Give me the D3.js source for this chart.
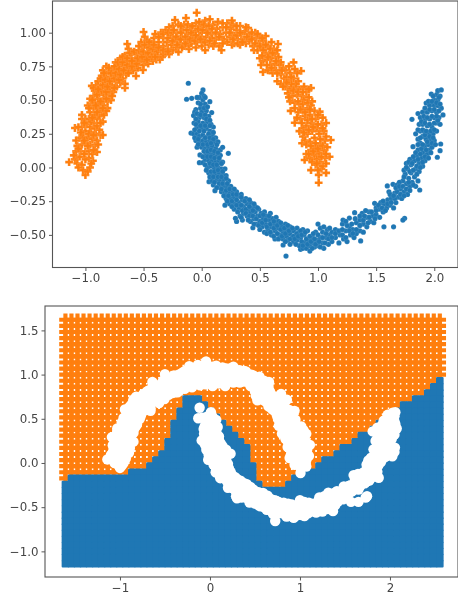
<!DOCTYPE html>
<html><head><meta charset="utf-8">
<script src="https://cdn.jsdelivr.net/npm/d3@7/dist/d3.min.js"></script>
<style>html,body{margin:0;padding:0;background:#fff}svg{display:block;filter:blur(0.35px)}</style>
</head><body><svg id="c" width="458" height="603"></svg>
<script>
const orangeMoon = [[-1.14,.04],[-1.09,.06],[-1.07,.03],[-1.05,.08],[-1.03,.02],[-1,-.056],[-1.02,-.02],[-.98,-.03],[-.96,0],[-.935,.05],[-.9,.115],[-.95,.03],[-.97,.07],[-1,.06],[-1.04,.12],[-1.08,.12],[-1.07,.16],[-1.03,.17],[-1,.12],[-.97,.12],[-.94,.1],[-.92,.16],[-.96,.17],[-1,.18],[-1.05,.22],[-1.08,.2],[-1.02,.23],[-.98,.22],[-.94,.21],[-.9,.2],[-.87,.24],[-.85,.241],[-.91,.25],[-.95,.26],[-1,.27],[-1.03,.3],[-1.09,.293],[-1.06,.3],[-.99,.32],[-.96,.3],[-.92,.29],[-.88,.28],[-1.03,.39],[-1.03,.36],[-1,.36],[-.97,.36],[-.93,.33],[-.9,.36],[-.85,.34],[-.88,.38],[-.92,.39],[-.96,.41],[-.93,.44],[-.89,.43],[-.86,.42],[-.84,.39],[-.95,.47],[-.98,.46],[-.92,.48],[-.88,.47],[-.84,.46],[-.81,.44],[-.96,.51],[-.93,.53],[-.89,.51],[-.85,.5],[-.81,.49],[-.78,.5],[-.945,.605],[-.92,.57],[-.88,.55],[-.84,.54],[-.8,.54],[-.91,.61],[-.87,.6],[-.83,.59],[-.79,.57],[-.76,.56],[-.89,.64],[-.85,.64],[-.81,.63],[-.77,.61],[-.73,.6],[-.66,.59],[-.66,.62],[-.86,.68],[-.82,.67],[-.78,.66],[-.74,.64],[-.7,.63],[-.85,.72],[-.8,.71],[-.76,.69],[-.72,.68],[-.68,.66],[-.82,.75],[-.77,.73],[-.73,.72],[-.69,.71],[-.65,.69],[-.62,.72],[-.565,.679],[-.505,.723],[-.74,.78],[-.71,.76],[-.67,.75],[-.63,.74],[-.59,.72],[-.55,.74],[-.7,.81],[-.66,.79],[-.62,.77],[-.58,.76],[-.54,.78],[-.5,.76],[-.66,.83],[-.61,.81],[-.57,.8],[-.53,.81],[-.49,.79],[-.46,.77],[-.64,.916],[-.63,.88],[-.6,.85],[-.56,.84],[-.52,.85],[-.48,.83],[-.45,.81],[-.42,.79],[-.39,.8],[-.36,.8],[-.5,1.005],[-.49,.97],[-.52,.93],[-.51,.89],[-.47,.9],[-.44,.86],[-.41,.84],[-.38,.83],[-.34,.82],[-.47,.94],[-.43,.92],[-.39,.88],[-.35,.86],[-.31,.85],[-.28,.84],[-.41,.96],[-.37,.93],[-.33,.9],[-.29,.88],[-.25,.87],[-.35,1],[-.33,.96],[-.3,.93],[-.26,.91],[-.22,.89],[-.2,.857],[-.11,.879],[-.31,1.02],[-.27,.98],[-.23,.95],[-.19,.92],[-.15,.9],[-.11,.91],[-.28,1.04],[-.23,1.094],[-.25,1.05],[-.21,1],[-.17,.97],[-.13,.94],[-.09,.92],[-.05,.89],[-.2,1.06],[-.16,1.02],[-.12,.99],[-.08,.96],[-.04,.93],[0,.9],[.03,.87],[-.135,1.109],[-.15,1.06],[-.1,1.04],[-.06,1.01],[-.02,.97],[.02,.94],[.06,.91],[.1,.9],[-.043,1.148],[-.05,1.07],[0,1.05],[.03,1.09],[.07,1.1],[.04,1.02],[.08,.99],[.12,.95],[.15,.9],[.17,.87],[0,1],[.04,.97],[.1,1.06],[.13,1.03],[.16,.99],[.19,.95],[.22,.93],[.14,1.08],[.18,1.04],[.21,1],[.24,.97],[.26,.91],[.28,.92],[.22,1.07],[.25,1.03],[.28,.98],[.31,.95],[.33,.91],[.27,1.06],[.3,1.02],[.34,.99],[.36,.95],[.38,.92],[.4,1.035],[.37,1.01],[.33,1.05],[.42,.98],[.41,.94],[.44,.9],[.45,.87],[.47,.96],[.46,1],[.5,.97],[.49,.92],[.52,.89],[.48,.87],[.55,.975],[.53,.94],[.57,.9],[.6,.93],[.656,.916],[.62,.88],[.55,.85],[.58,.84],[.5,.81],[.53,.79],[.527,.708],[.51,.76],[.56,.8],[.6,.81],[.63,.84],[.66,.82],[.59,.76],[.63,.77],[.67,.76],[.7,.74],[.57,.72],[.61,.7],[.65,.64],[.64,.72],[.68,.69],[.72,.72],[.76,.7],[.79,.78],[.75,.75],[.855,.716],[.82,.7],[.71,.66],[.75,.64],[.79,.66],[.83,.64],[.68,.62],[.72,.6],[.76,.58],[.8,.6],[.84,.58],[.88,.6],[.94,.59],[.9,.56],[.86,.53],[.82,.54],[.78,.53],[.74,.55],[.76,.49],[.8,.48],[.84,.47],[.88,.5],[.92,.52],[.95,.49],[.91,.44],[.87,.42],[.83,.41],[.765,.42],[.8,.332],[.85,.36],[.89,.38],[.93,.39],[.97,.42],[1.015,.414],[.98,.36],[.94,.33],[.9,.31],[.87,.29],[1.07,.33],[1.03,.32],[.99,.29],[.95,.27],[.91,.25],[.87,.23],[.863,.18],[.89,.2],[.93,.19],[.97,.22],[1.01,.25],[1.05,.27],[1.11,.204],[1.06,.2],[1.02,.17],[.98,.15],[.94,.13],[.9,.1],[.885,.056],[.93,.07],[.97,.09],[1.01,.11],[1.05,.13],[1.1,.08],[1.06,.07],[1.02,.04],[.98,.02],[.94,-.02],[1.07,-.04],[1.03,-.01],[1.006,-.055],[1.006,-.113],[.99,.06],
[-1.06,0],[-1.1,.09],[-1.01,.1],[-.98,.16],[-1.06,.14],[-.93,.13],[-.89,.17],[-1.01,.2],[-.97,.25],[-.93,.24],[-1.04,.26],[-.9,.31],[-.95,.34],[-1.01,.33],[-.87,.33],[-.94,.37],[-.9,.41],[-.82,.42],[-.97,.44],[-.85,.44],[-.91,.46],[-.87,.49],[-.94,.5],[-.82,.51],[-.9,.54],[-.86,.57],[-.82,.56],[-.77,.53],[-.93,.59],[-.89,.58],[-.85,.61],[-.81,.6],[-.75,.59],[-.87,.66],[-.83,.65],[-.79,.64],[-.75,.66],[-.71,.65],[-.84,.7],[-.78,.7],[-.74,.7],[-.7,.69],[-.8,.74],[-.75,.75],[-.71,.73],[-.67,.72],[-.63,.7],[-.72,.78],[-.68,.78],[-.64,.76],[-.6,.75],[-.56,.77],[-.68,.82],[-.64,.81],[-.6,.79],[-.55,.81],[-.51,.82],[-.47,.8],[-.62,.85],[-.58,.86],[-.54,.87],[-.5,.86],[-.46,.85],[-.43,.82],[-.4,.82],[-.54,.9],[-.49,.91],[-.45,.89],[-.42,.88],[-.38,.86],[-.33,.84],[-.45,.93],[-.41,.91],[-.37,.89],[-.33,.87],[-.29,.86],[-.4,.99],[-.37,.97],[-.33,.99],[-.29,.96],[-.25,.94],[-.21,.91],[-.17,.89],[-.29,1],[-.25,1],[-.22,.97],[-.18,.95],[-.14,.92],[-.24,1.02],[-.18,1],[-.14,.97],[-.1,.95],[-.06,.94],[-.18,1.05],[-.13,1.02],[-.09,1],[-.05,.98],[-.01,.95],[-.12,1.06],[-.08,1.05],[-.03,1.03],[.01,1.02],[.05,1],[.09,.96],[.03,.93],[.07,.94],[.11,.92],[-.02,1.08],[.02,1.06],[.06,1.05],[.09,1.03],[.12,1],[.15,.97],[.18,.92],[.18,1.07],[.21,1.04],[.24,1],[.27,.95],[.3,.98],[.31,.92],[.26,1.09],[.3,1.05],[.33,1],[.35,.93],[.39,.97],[.38,1.04],[.43,1],[.43,.95],[.46,.92],[.5,.9],[.48,.99],[.52,.96],[.55,.91],[.59,.88],[.53,.87],[.57,.82],[.61,.85],[.52,.83],[.65,.87],[.68,.78],[.64,.79],[.6,.74],[.56,.76],[.65,.7],[.69,.72],[.73,.67],[.77,.67],[.8,.73],[.81,.62],[.77,.62],[.73,.63],[.7,.6],[.75,.52],[.79,.57],[.83,.56],[.87,.56],[.92,.58],[.83,.49],[.87,.47],[.91,.48],[.94,.46],[.8,.44],[.85,.43],[.89,.41],[.93,.43],[.82,.37],[.86,.33],[.91,.35],[.95,.36],[1,.39],[1.04,.37],[.84,.27],[.88,.26],[.92,.28],[.96,.3],[1,.32],[1.04,.29],[.9,.17],[.94,.16],[.98,.18],[1.02,.21],[1.07,.23],[.92,.1],[.96,.12],[1,.14],[1.04,.16],[1.08,.15],[.95,.04],[.99,.03],[1.03,.08],[1.07,.1],[1,-.02],[1.04,.01],[1.07,.03]];
const blueMoon = [[-.115,.625],[-.13,.506],[-.086,.513],[.011,.575],[0,.55],[-.02,.52],[-.03,.48],[.01,.5],[.03,.47],[.07,.488],[-.01,.44],[-.05,.43],[-.06,.41],[0,.41],[.04,.42],[.086,.407],[.06,.38],[.02,.37],[-.02,.37],[-.07,.385],[-.066,.33],[-.03,.34],[.01,.33],[.05,.34],[.08,.32],[.1,.3],[-.04,.3],[0,.29],[.04,.29],[.07,.27],[-.092,.255],[-.07,.25],[-.04,.25],[-.02,.23],[.01,.24],[.05,.23],[.09,.24],[.12,.22],[-.05,.2],[-.02,.19],[.01,.2],[.04,.19],[.07,.2],[.11,.19],[.14,.19],[-.04,.15],[0,.15],[.03,.14],[.06,.15],[.09,.16],[.12,.14],[.16,.13],[.18,.15],[-.015,.093],[.04,.1],[.07,.1],[.1,.1],[.13,.08],[.16,.09],[.229,.105],[-.02,.036],[.011,.036],[.03,.06],[.06,.05],[.09,.05],[.12,.04],[.15,.05],[.18,.04],[.05,0],[.08,.01],[.11,-.01],[.14,0],[.17,-.01],[.2,-.01],[.06,-.04],[.09,-.05],[.12,-.05],[.15,-.04],[.18,-.05],[.21,-.06],[.063,-.105],[.09,-.1],[.13,-.09],[.16,-.1],[.19,-.09],[.23,-.1],[.114,-.172],[.1,-.13],[.15,-.14],[.19,-.14],[.22,-.15],[.25,-.14],[.17,-.18],[.2,-.19],[.24,-.19],[.27,-.18],[.3,-.18],[.2,-.28],[.21,-.23],[.25,-.23],[.28,-.22],[.31,-.21],[.24,-.27],[.28,-.27],[.32,-.26],[.35,-.24],[.38,-.23],[.28,-.31],[.32,-.3],[.36,-.29],[.39,-.27],[.42,-.26],[.3,-.4],[.29,-.377],[.33,-.36],[.36,-.34],[.4,-.32],[.43,-.3],[.46,-.29],[.35,-.39],[.39,-.36],[.42,-.34],[.46,-.33],[.49,-.31],[.44,-.447],[.42,-.4],[.45,-.38],[.48,-.36],[.51,-.34],[.54,-.33],[.47,-.42],[.5,-.4],[.53,-.38],[.56,-.36],[.59,-.34],[.52,-.44],[.55,-.42],[.58,-.39],[.61,-.38],[.64,-.37],[.54,-.48],[.57,-.46],[.6,-.44],[.63,-.42],[.66,-.4],[.6,-.5],[.63,-.47],[.66,-.45],[.69,-.43],[.72,-.42],[.63,-.53],[.67,-.5],[.7,-.48],[.73,-.46],[.76,-.44],[.7,-.575],[.725,-.657],[.7,-.53],[.73,-.51],[.76,-.49],[.79,-.47],[.82,-.45],[.74,-.54],[.78,-.52],[.81,-.5],[.84,-.48],[.87,-.46],[.79,-.55],[.82,-.54],[.85,-.52],[.88,-.5],[.91,-.47],[.85,-.607],[.87,-.6],[.84,-.58],[.89,-.56],[.92,-.54],[.95,-.52],[.98,-.48],[.9,-.6],[.93,-.58],[.96,-.56],[.99,-.54],[1.02,-.52],[1,-.42],[.93,-.62],[.97,-.59],[1,-.58],[1.04,-.56],[1.07,-.52],[1.05,-.6],[1.09,-.57],[1.12,-.55],[1.1,-.5],[1.04,-.48],[1.08,-.46],[1.02,-.45],[1.12,-.48],[1.15,-.52],[1.18,-.56],[1.15,-.46],[1.19,-.5],[1.22,-.53],[1.25,-.55],[1.21,-.42],[1.24,-.47],[1.28,-.5],[1.31,-.52],[1.27,-.44],[1.25,-.43],[1.3,-.46],[1.33,-.49],[1.367,-.545],[1.36,-.47],[1.39,-.48],[1.315,-.335],[1.27,-.375],[1.215,-.39],[1.33,-.41],[1.36,-.39],[1.39,-.42],[1.42,-.44],[1.38,-.34],[1.42,-.37],[1.45,-.4],[1.48,-.41],[1.44,-.33],[1.47,-.36],[1.5,-.35],[1.53,-.37],[1.567,-.44],[1.487,-.266],[1.5,-.3],[1.53,-.31],[1.56,-.33],[1.59,-.3],[1.54,-.26],[1.57,-.27],[1.62,-.28],[1.65,-.3],[1.6,-.24],[1.63,-.23],[1.67,-.26],[1.65,-.44],[1.745,-.377],[1.73,-.39],[1.596,-.137],[1.645,-.125],[1.61,-.18],[1.66,-.19],[1.69,-.22],[1.72,-.23],[1.68,-.13],[1.71,-.16],[1.74,-.18],[1.77,-.2],[1.79,-.14],[1.76,-.12],[1.73,-.1],[1.7,-.11],[1.875,-.167],[1.84,-.14],[1.81,-.11],[1.78,-.08],[1.75,-.05],[1.74,-.02],[1.77,-.01],[1.8,-.04],[1.83,-.07],[1.86,-.1],[1.76,.03],[1.8,.02],[1.84,-.01],[1.87,-.03],[1.79,.06],[1.83,.05],[1.87,.03],[1.9,.01],[1.817,.154],[1.85,.09],[1.89,.07],[1.92,.05],[1.86,.13],[1.9,.11],[1.94,.1],[1.96,.13],[1.88,.18],[1.92,.16],[1.95,.17],[1.98,.15],[2.026,.076],[2.05,.125],[2.055,.174],[1.86,.21],[1.9,.23],[1.93,.21],[1.97,.21],[2,.2],[1.84,.25],[1.88,.27],[1.91,.27],[1.95,.26],[1.99,.25],[2.02,.27],[1.87,.32],[1.9,.32],[1.94,.31],[1.98,.3],[2.02,.33],[2.05,.32],[1.808,.357],[1.86,.4],[1.88,.37],[1.92,.36],[1.96,.36],[2,.37],[2.04,.37],[2.075,.39],[1.9,.41],[1.94,.41],[1.98,.42],[2.02,.41],[2.06,.44],[1.93,.478],[1.96,.46],[2,.46],[2.03,.46],[1.974,.545],[2,.5],[2.03,.5],[2.02,.54],[2.03,.57],[2.06,.575],[2.05,.53],
[-.04,.52],[.02,.53],[.03,.52],[-.01,.47],[.02,.44],[.05,.45],[-.04,.4],[-.01,.39],[.03,.39],[-.05,.36],[.04,.36],[.07,.35],[-.05,.32],[-.01,.31],[.03,.31],[.07,.31],[-.06,.28],[-.02,.27],[.02,.27],[.06,.25],[.1,.26],[-.06,.22],[-.03,.21],[.03,.22],[.07,.22],[.1,.21],[-.03,.17],[.01,.17],[.05,.17],[.08,.18],[.13,.17],[.02,.12],[.05,.12],[.08,.13],[.11,.12],[.14,.11],[.01,.08],[.05,.08],[.08,.08],[.11,.07],[.15,.07],[.03,.02],[.07,.03],[.1,.02],[.13,.02],[.17,.03],[.04,-.02],[.08,-.03],[.11,-.03],[.14,-.02],[.18,-.03],[.07,-.07],[.1,-.07],[.14,-.07],[.17,-.07],[.21,-.08],[.11,-.11],[.15,-.12],[.18,-.12],[.22,-.12],[.13,-.15],[.17,-.16],[.21,-.17],[.24,-.16],[.28,-.16],[.19,-.21],[.23,-.21],[.27,-.2],[.3,-.2],[.34,-.2],[.22,-.25],[.26,-.25],[.3,-.24],[.34,-.22],[.26,-.29],[.3,-.28],[.34,-.28],[.37,-.25],[.41,-.24],[.31,-.33],[.35,-.32],[.38,-.31],[.41,-.29],[.45,-.27],[.34,-.37],[.38,-.34],[.41,-.36],[.44,-.32],[.48,-.3],[.4,-.39],[.44,-.36],[.47,-.38],[.5,-.36],[.53,-.35],[.45,-.42],[.49,-.43],[.52,-.41],[.55,-.39],[.58,-.36],[.5,-.46],[.56,-.44],[.59,-.42],[.62,-.4],[.56,-.49],[.59,-.48],[.62,-.45],[.65,-.43],[.68,-.41],[.62,-.51],[.65,-.49],[.68,-.46],[.71,-.45],[.74,-.43],[.66,-.53],[.69,-.51],[.72,-.49],[.75,-.47],[.78,-.45],[.72,-.55],[.76,-.53],[.79,-.51],[.82,-.49],[.85,-.47],[.76,-.57],[.8,-.53],[.83,-.51],[.86,-.5],[.89,-.48],[.81,-.57],[.86,-.55],[.9,-.53],[.93,-.51],[.96,-.49],[.87,-.58],[.91,-.57],[.94,-.55],[.97,-.53],[1,-.5],[.95,-.6],[.98,-.57],[1.01,-.55],[1.04,-.52],[1.02,-.59],[1.06,-.56],[1.09,-.53],[1.07,-.49],[1.12,-.52],[1.15,-.49],[1.05,-.44],[1.1,-.45],[1.18,-.47],[1.21,-.5],[1.24,-.52],[1.27,-.47],[1.21,-.46],[1.3,-.49],[1.33,-.46],[1.29,-.42],[1.24,-.4],[1.32,-.38],[1.36,-.43],[1.39,-.39],[1.43,-.41],[1.36,-.36],[1.4,-.36],[1.44,-.37],[1.46,-.33],[1.49,-.38],[1.41,-.32],[1.5,-.32],[1.52,-.28],[1.55,-.3],[1.58,-.32],[1.56,-.25],[1.6,-.27],[1.63,-.26],[1.66,-.23],[1.62,-.2],[1.65,-.21],[1.68,-.18],[1.71,-.2],[1.74,-.21],[1.67,-.15],[1.7,-.14],[1.73,-.14],[1.76,-.16],[1.79,-.17],[1.74,-.07],[1.78,-.11],[1.82,-.13],[1.79,-.03],[1.82,-.02],[1.85,-.05],[1.76,0],[1.78,.04],[1.81,.03],[1.85,.01],[1.88,0],[1.82,.08],[1.86,.06],[1.9,.04],[1.84,.11],[1.88,.1],[1.92,.08],[1.95,.07],[1.89,.14],[1.93,.13],[1.97,.11],[1.86,.17],[1.9,.17],[1.94,.19],[1.98,.18],[2.01,.17],[1.88,.22],[1.92,.24],[1.96,.23],[1.99,.22],[1.86,.28],[1.9,.28],[1.93,.27],[1.97,.27],[2,.28],[1.89,.34],[1.92,.33],[1.96,.32],[2,.33],[2.03,.35],[1.91,.38],[1.94,.37],[1.98,.38],[2.02,.38],[1.92,.44],[1.96,.43],[2,.43],[2.04,.42],[1.95,.49],[1.98,.49],[2.02,.48],[2.05,.47],[1.99,.53],[2.04,.52]];

const gridX = [-1.606,-1.539,-1.472,-1.405,-1.338,-1.270,-1.203,-1.136,-1.069,-1.002,-0.935,-0.868,-0.801,-0.734,-0.667,-0.600,-0.532,-0.465,-0.398,-0.331,-0.264,-0.197,-0.130,-0.063,0.004,0.071,0.139,0.206,0.273,0.340,0.407,0.474,0.541,0.608,0.675,0.743,0.810,0.877,0.944,1.011,1.078,1.145,1.212,1.279,1.346,1.414,1.481,1.548,1.615,1.682,1.749,1.816,1.883,1.950,2.017,2.085,2.152,2.219,2.286,2.353,2.420,2.487,2.554];
const gridBoundary = [-.20,-.13,-.13,-.13,-.13,-.13,-.13,-.13,-.13,-.12,-.11,-.09,-.07,-.04,0,.06,.16,.30,.49,.65,.73,.74,.73,.66,.60,.54,.47,.41,.36,.29,.20,-.02,-.20,-.27,-.29,-.28,-.25,-.21,-.17,-.13,-.08,-.04,.01,.05,.10,.14,.19,.23,.27,.32,.36,.41,.46,.51,.56,.62,.66,.70,.75,.79,.84,.89,.94];
const gridY = [1.620,1.551,1.482,1.413,1.344,1.275,1.206,1.137,1.068,0.999,0.930,0.861,0.792,0.723,0.654,0.585,0.516,0.447,0.378,0.309,0.240,0.171,0.102,0.033,-0.036,-0.105,-0.174,-0.243,-0.312,-0.381,-0.450,-0.519,-0.588,-0.657,-0.726,-0.795,-0.864,-0.933,-1.002,-1.071,-1.140];

const topXTicks = [-1,-0.5,0,0.5,1,1.5,2];
const topYTicks = [-0.5,-0.25,0,0.25,0.5,0.75,1];
const botXTicks = [-1,0,1,2];
const botYTicks = [-1,-0.5,0,0.5,1,1.5];

const BLUE = "#1f77b4", ORANGE = "#ff7f0e", INK = "#444";
const svg = d3.select("#c");
const fmt = f => v => d3.format(f)(v).replace("-", "\u2212");

function frame(xs, ys, xT, yT, xf, yf) {
  const [l, r] = xs.range(), [b, t] = ys.range();
  const gx = svg.append("g").attr("transform", `translate(0,${b})`)
    .call(d3.axisBottom(xs).tickValues(xT).tickFormat(fmt(xf)).tickSize(3.5).tickPadding(3));
  const gy = svg.append("g").attr("transform", `translate(${l},0)`)
    .call(d3.axisLeft(ys).tickValues(yT).tickFormat(fmt(yf)).tickSize(3.5).tickPadding(3));
  for (const g of [gx, gy]) {
    g.select(".domain").remove();
    g.selectAll("line").attr("stroke", INK).attr("stroke-width", 0.9);
    g.selectAll("text").attr("fill", INK).attr("font-family", "DejaVu Sans").attr("font-size", 11.8);
  }
  svg.append("rect").attr("x", l).attr("y", t).attr("width", r - l).attr("height", b - t)
    .attr("fill", "none").attr("stroke", "#555").attr("stroke-width", 1.1);
}

const cross = s => d3.symbol(d3.symbolCross, s)();

// top panel
const x1 = d3.scaleLinear().domain([-1.283, 2.204]).range([52.5, 458]);
const y1 = d3.scaleLinear().domain([-0.742, 1.235]).range([267.5, 1]);
svg.append("g").selectAll("path").data(orangeMoon).join("path")
  .attr("d", cross(34)).attr("transform", d => `translate(${x1(d[0])},${y1(d[1])})`)
  .attr("fill", ORANGE).attr("stroke", "#fff").attr("stroke-opacity", 0.3).attr("stroke-width", 0.3);
svg.append("g").selectAll("circle").data(blueMoon).join("circle")
  .attr("cx", d => x1(d[0])).attr("cy", d => y1(d[1])).attr("r", 2.6)
  .attr("fill", BLUE).attr("stroke", "#fff").attr("stroke-opacity", 0.3).attr("stroke-width", 0.3);
frame(x1, y1, topXTicks, topYTicks, ".1f", ".2f");

// bottom panel
const x2 = d3.scaleLinear().domain([-1.833, 2.756]).range([45, 458]);
const y2 = d3.scaleLinear().domain([-1.29, 1.776]).range([577, 306]);
const mesh = gridX.flatMap((gx, i) => gridY.map(gy => ({x: gx, y: gy, blue: gy < gridBoundary[i]})));
svg.append("g").selectAll("path").data(mesh.filter(d => !d.blue)).join("path")
  .attr("d", cross(86)).attr("transform", d => `translate(${x2(d.x)},${y2(d.y)})`).attr("fill", ORANGE);
svg.append("g").selectAll("rect").data(mesh.filter(d => d.blue)).join("rect")
  .attr("x", d => x2(d.x) - 3.8).attr("y", d => y2(d.y) - 3.8)
  .attr("width", 7.6).attr("height", 7.6).attr("rx", 1).attr("fill", BLUE);
svg.append("g").selectAll("circle").data(orangeMoon.concat(blueMoon)).join("circle")
  .attr("cx", d => x2(d[0])).attr("cy", d => y2(d[1])).attr("r", 5.2).attr("fill", "#fff");
frame(x2, y2, botXTicks, botYTicks, "d", ".1f");
</script></body></html>
